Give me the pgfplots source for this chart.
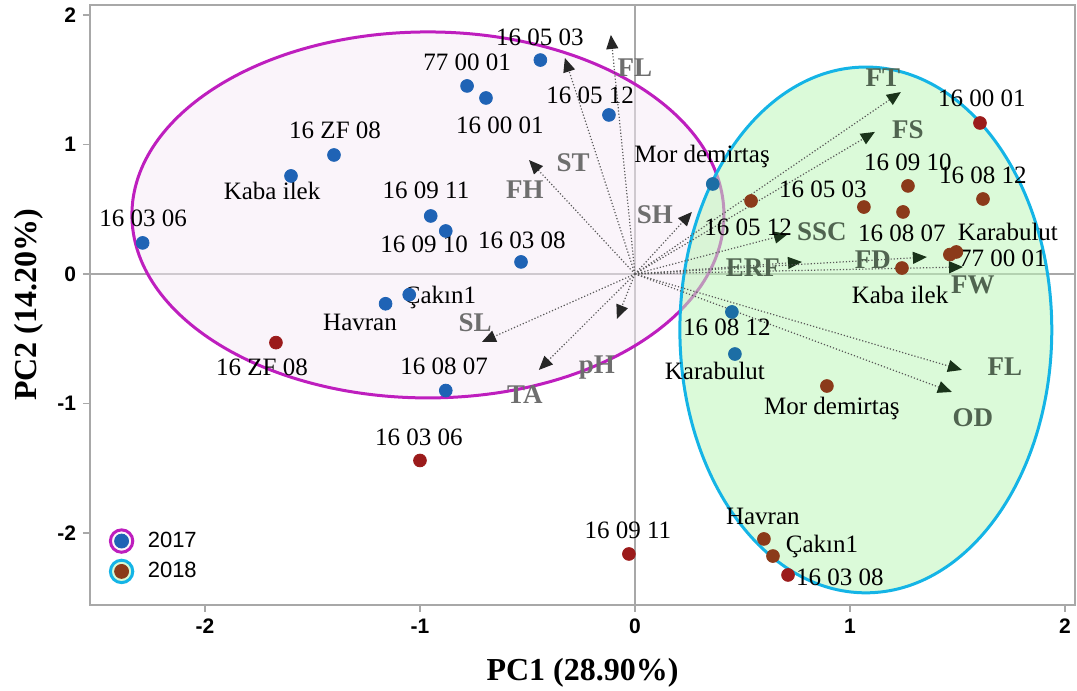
\documentclass[border=0pt]{standalone}
\usepackage{fontspec}
\setmainfont{Liberation Serif}
\newfontfamily\sansf{Liberation Sans}
\usepackage{pgfplots}
\pgfplotsset{compat=1.18}
\usetikzlibrary{arrows.meta}
\definecolor{ptblue}{RGB}{31,99,181}
\definecolor{ptteal}{RGB}{28,110,165}
\definecolor{ptred}{RGB}{155,27,27}
\definecolor{ptbrown}{RGB}{139,58,26}
\definecolor{magc}{RGB}{190,30,190}
\definecolor{cyanc}{RGB}{20,180,230}
\definecolor{pinkf}{RGB}{246,234,246}
\definecolor{greenf}{RGB}{190,245,185}
\definecolor{varA}{RGB}{110,110,110}
\definecolor{varB}{RGB}{80,100,80}
\definecolor{headB}{RGB}{26,51,26}
\definecolor{framec}{RGB}{168,168,168}
\newcommand\ptfont{\fontsize{12.5}{14}\selectfont}
\newcommand\varfont{\fontsize{13.5}{15}\selectfont\bfseries}
\begin{document}
\begin{tikzpicture}
\begin{axis}[
  scale only axis,
  width=492.5pt, height=300pt,
  xmin=-2.535, xmax=2.047,
  ymin=-2.556, ymax=2.077,
  xtick={-2,-1,0,1,2}, ytick={-2,-1,0,1,2},
  xtick pos=bottom, ytick pos=left,
  tick align=outside, major tick length=3.5pt,
  tick style={framec, line width=0.7pt},
  axis line style={framec, line width=0.7pt},
  /pgf/number format/assume math mode=true,
  tick label style={font=\sansf\bfseries\fontsize{10.5}{12}\selectfont},
  xlabel={PC1 (28.90\%)}, ylabel={PC2 (14.20\%)},
  label style={font=\fontsize{16}{18}\selectfont\bfseries},
  xlabel style={at={(axis description cs:0.5,0)}, anchor=center, yshift=-34pt},
  ylabel style={at={(axis description cs:0,0.5)}, anchor=center, yshift=30.5pt},
  legend style={at={(axis description cs:0,0)}, anchor=south west, xshift=6.25pt, yshift=8pt,
    draw=none, fill=none, font=\sansf\fontsize{11}{13}\selectfont, row sep=2pt},
  legend cell align=left,
  clip=false,
]
\coordinate (sw) at (rel axis cs:0,0);
\coordinate (ne) at (rel axis cs:1,1);
% zero lines
\draw[framec, line width=0.75pt] ({axis cs:0,0}|-{rel axis cs:0,0}) -- ({axis cs:0,0}|-{rel axis cs:0,1});
\draw[framec, line width=0.75pt] ({axis cs:0,0}-|{rel axis cs:0,0}) -- ({axis cs:0,0}-|{rel axis cs:1,0});
% ellipses
\draw[magc, line width=1.5pt, fill=pinkf, fill opacity=0.5, draw opacity=1] (axis cs:-0.963,0.456) ellipse [x radius=1.377, y radius=1.413];
\draw[cyanc, line width=1.5pt, fill=greenf, fill opacity=0.55, draw opacity=1] (axis cs:1.074,-0.432) ellipse [x radius=0.865, y radius=2.03];
% loading vectors
\pgfplotsset{vecA/.style={forget plot, densely dotted, line width=0.6pt, color=black!65, -{Triangle[length=7pt,width=6pt,color=black!85]}},
             vecB/.style={forget plot, densely dotted, line width=0.6pt, color=black!65, -{Triangle[length=7pt,width=6pt,color=headB]}}}
\addplot[vecA] coordinates {(0,0) (-0.112,1.846)};
\addplot[vecA] coordinates {(0,0) (-0.326,1.668)};
\addplot[vecA] coordinates {(0,0) (-0.493,0.880)};
\addplot[vecA] coordinates {(0,0) (0.265,0.479)};
\addplot[vecA] coordinates {(0,0) (-0.712,-0.525)};
\addplot[vecA] coordinates {(0,0) (-0.447,-0.741)};
\addplot[vecA] coordinates {(0,0) (-0.084,-0.347)};
\addplot[vecB] coordinates {(0,0) (1.237,1.405)};
\addplot[vecB] coordinates {(0,0) (1.116,1.097)};
\addplot[vecB] coordinates {(0,0) (0.712,0.309)};
\addplot[vecB] coordinates {(0,0) (0.777,0.093)};
\addplot[vecB] coordinates {(0,0) (1.358,0.131)};
\addplot[vecB] coordinates {(0,0) (1.526,0.054)};
\addplot[vecB] coordinates {(0,0) (1.521,-0.741)};
\addplot[vecB] coordinates {(0,0) (1.474,-0.911)};
% 2017 scores
\addplot[only marks, mark=*, mark size=3.2pt, color=ptblue, forget plot] coordinates {
 (-2.29,0.24) (-1.60,0.757) (-1.40,0.919) (-0.781,1.452) (-0.693,1.359)
 (-0.44,1.652) (-0.121,1.228) (-0.95,0.448) (-0.88,0.332) (-0.53,0.093)
 (-1.16,-0.23) (-1.05,-0.16) (-0.88,-0.90)};
\addplot[only marks, mark=*, mark size=3.2pt, color=ptteal, forget plot] coordinates {
 (0.362,0.695) (0.451,-0.293) (0.465,-0.618)};
% 2018 scores
\addplot[only marks, mark=*, mark size=3.2pt, color=ptred, forget plot] coordinates {
 (-1.67,-0.53) (-1.00,-1.44) (-0.028,-2.162) (0.712,-2.324) (1.605,1.166)};
\addplot[only marks, mark=*, mark size=3.2pt, color=ptbrown, forget plot] coordinates {
 (0.600,-2.046) (0.642,-2.178) (0.893,-0.865) (0.540,0.564) (1.065,0.517)
 (1.270,0.680) (1.247,0.479) (1.619,0.579) (1.495,0.170) (1.465,0.150) (1.242,0.046)};
% legend
\addlegendimage{legend image code/.code={
  \draw[magc, line width=1.5pt, fill=pinkf!40] (0.1cm,0) circle (5.6pt);
  \fill[ptblue] (0.1cm,0) circle (3.5pt);
  \path (0.1cm,0) ++(10.9pt,0);}}
\addlegendentry{2017}
\addlegendimage{legend image code/.code={
  \draw[cyanc, line width=1.5pt, fill=greenf!60] (0.1cm,0) circle (5.6pt);
  \fill[ptbrown] (0.1cm,0) circle (3.5pt);
  \path (0.1cm,0) ++(10.9pt,0);}}
\addlegendentry{2018}
% 2017 labels
\begin{scope}[every node/.style={font=\ptfont, inner sep=0pt}]
\node at (axis cs:-2.288,0.432) {16 03 06};
\node at (axis cs:-1.688,0.641) {Kaba ilek};
\node at (axis cs:-1.395,1.112) {16 ZF 08};
\node at (axis cs:-0.781,1.637) {77 00 01};
\node at (axis cs:-0.628,1.151) {16 00 01};
\node at (axis cs:-0.442,1.830) {16 05 03};
\node at (axis cs:-0.209,1.382) {16 05 12};
\node at (axis cs:0.312,0.911) {Mor demirtaş};
\node at (axis cs:-0.972,0.649) {16 09 11};
\node at (axis cs:-0.981,0.232) {16 09 10};
\node at (axis cs:-0.526,0.263) {16 03 08};
\node at (axis cs:-1.279,-0.371) {Havran};
\node at (axis cs:-0.907,-0.178) {Çakın1};
\node at (axis cs:-0.888,-0.710) {16 08 07};
\node at (axis cs:0.428,-0.409) {16 08 12};
\node at (axis cs:0.372,-0.749) {Karabulut};
% 2018 labels
\node at (axis cs:-1.735,-0.718) {16 ZF 08};
\node at (axis cs:-1.005,-1.259) {16 03 06};
\node at (axis cs:-0.033,-1.977) {16 09 11};
\node at (axis cs:0.595,-1.869) {Havran};
\node at (axis cs:0.870,-2.108) {Çakın1};
\node at (axis cs:0.953,-2.340) {16 03 08};
\node at (axis cs:0.916,-1.035) {Mor demirtaş};
\node at (axis cs:0.526,0.363) {16 05 12};
\node at (axis cs:0.874,0.656) {16 05 03};
\node at (axis cs:1.270,0.865) {16 09 10};
\node at (axis cs:1.619,0.764) {16 08 12};
\node at (axis cs:1.242,0.317) {16 08 07};
\node at (axis cs:1.614,1.359) {16 00 01};
\node at (axis cs:1.735,0.322) {Karabulut};
\node at (axis cs:1.712,0.122) {77 00 01};
\node at (axis cs:1.233,-0.162) {Kaba ilek};
\end{scope}
% variable labels
\begin{scope}[every node/.style={font=\varfont, inner sep=0pt}]
\node[varA] at (axis cs:0.0,1.591) {FL};
\node[varA] at (axis cs:-0.288,0.857) {ST};
\node[varA] at (axis cs:-0.512,0.649) {FH};
\node[varA] at (axis cs:0.093,0.456) {SH};
\node[varA] at (axis cs:-0.744,-0.378) {SL};
\node[varA] at (axis cs:-0.512,-0.934) {TA};
\node[varA] at (axis cs:-0.177,-0.726) {pH};
\node[varB] at (axis cs:1.153,1.514) {FT};
\node[varB] at (axis cs:1.270,1.112) {FS};
\node[varB] at (axis cs:0.870,0.324) {SSC};
\node[varB] at (axis cs:0.549,0.046) {ERF};
\node[varB] at (axis cs:1.107,0.108) {FD};
\node[varB] at (axis cs:1.572,-0.085) {FW};
\node[varB] at (axis cs:1.721,-0.718) {FL};
\node[varB] at (axis cs:1.572,-1.112) {OD};
\end{scope}
\end{axis}
\pgfresetboundingbox
\path ([xshift=-45pt,yshift=-43pt]sw) rectangle ([xshift=1pt,yshift=2.5pt]ne);
\end{tikzpicture}
\end{document}
